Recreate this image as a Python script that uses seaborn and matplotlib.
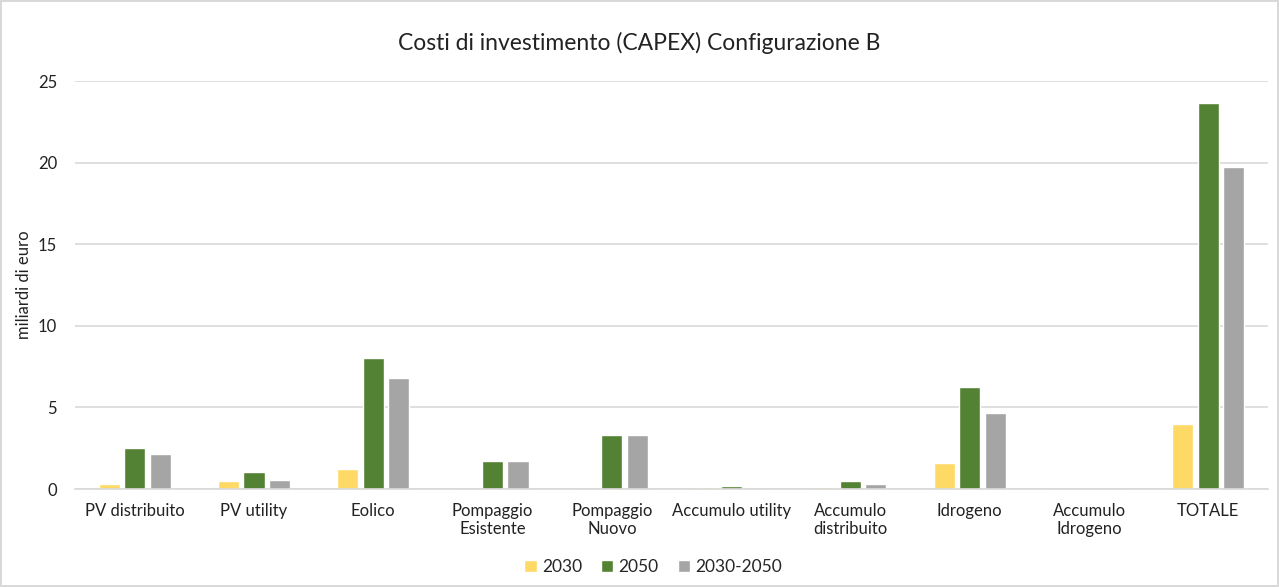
import pandas as pd
import seaborn as sns
import matplotlib.pyplot as plt

categories = ['PV distribuito', 'PV utility', 'Eolico', 'Pompaggio\nEsistente',
              'Pompaggio\nNuovo', 'Accumulo utility', 'Accumulo\ndistribuito',
              'Idrogeno', 'Accumulo\nIdrogeno', 'TOTALE']
series_names = ['2030', '2050', '2030-2050']
values_2030 = [0.3, 0.5, 1.2, 0.0, 0.0, 0.1, 0.15, 1.6, 0.0, 4.0]
values_2050 = [2.5, 1.05, 8.0, 1.7, 3.3, 0.16, 0.5, 6.25, 0.0, 23.65]
values_2030_2050 = [2.15, 0.55, 6.8, 1.7, 3.3, 0.0, 0.3, 4.65, 0.0, 19.7]
colors = ['#FFD966', '#548235', '#A5A5A5']


def build_frame():
    # long-form table for seaborn
    rows = []
    for name, vals in zip(series_names, [values_2030, values_2050, values_2030_2050]):
        for cat, v in zip(categories, vals):
            rows.append({'Categoria': cat, 'Serie': name, 'Valore': v})
    return pd.DataFrame(rows)


df = build_frame()

sns.set_theme(style='white')
plt.rcParams['font.family'] = ['Lato', 'DejaVu Sans']

fig = plt.figure(figsize=(12.79, 5.87), dpi=100)
fig.patch.set_edgecolor('#D9D9D9')
fig.patch.set_linewidth(1.5)
ax = fig.add_axes([75 / 1279, 1 - 489 / 587, (1268 - 75) / 1279, (489 - 81) / 587])

sns.barplot(data=df, x='Categoria', y='Valore', hue='Serie', palette=colors,
            saturation=1, width=0.64, gap=0.17, ax=ax, legend=True)

ax.set_ylim(0, 25)
ax.set_yticks([0, 5, 10, 15, 20, 25])
ax.yaxis.grid(True, color='#D9D9D9', linewidth=1.2)
ax.set_axisbelow(True)
for side in ['top', 'right', 'left']:
    ax.spines[side].set_visible(False)
ax.spines['bottom'].set_color('#D9D9D9')
ax.spines['bottom'].set_linewidth(1.2)
ax.tick_params(axis='both', length=0, labelsize=12, colors='#222222')
ax.tick_params(axis='x', pad=10)
ax.tick_params(axis='y', pad=13)
ax.set_xlabel('')
ax.set_ylabel('miliardi di euro', fontsize=12, color='#222222', labelpad=4)

fig.suptitle('Costi di investimento (CAPEX) Configurazione B', fontsize=16.5,
             y=1 - 43 / 587, va='center', color='#222222')

handles, labels = ax.get_legend_handles_labels()
ax.legend(handles, labels, loc='center', bbox_to_anchor=(653 / 1279, (1 - 567 / 587)),
          bbox_transform=fig.transFigure, ncol=3, frameon=False, fontsize=12.5,
          handlelength=0.7, handleheight=0.7, handletextpad=0.3, columnspacing=1.1)

fig.savefig('out.png', dpi=100)
